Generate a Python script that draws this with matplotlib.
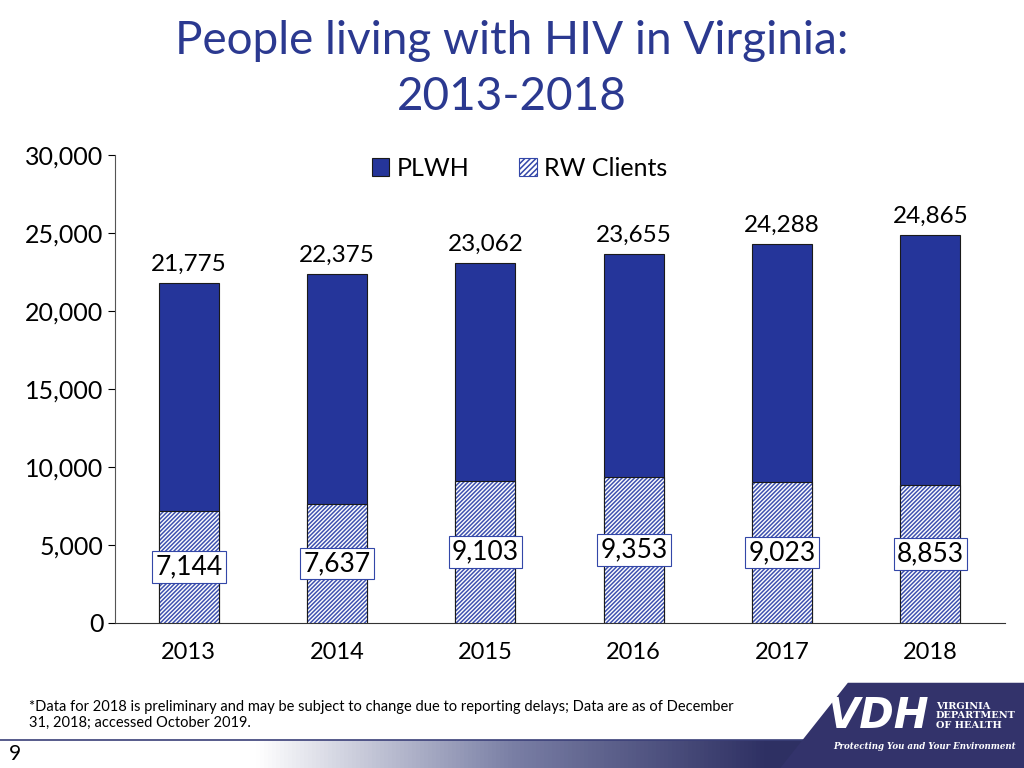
import matplotlib.pyplot as plt
import numpy as np
from matplotlib.patches import Polygon, Rectangle

years = ['2013', '2014', '2015', '2016', '2017', '2018']
plwh = [21775, 22375, 23062, 23655, 24288, 24865]
rw_clients = [7144, 7637, 9103, 9353, 9023, 8853]

navy = '#25359A'
title_blue = '#2B3990'

plt.rcParams['font.family'] = ['Lato', 'DejaVu Sans']
plt.rcParams['hatch.linewidth'] = 1.1

fig = plt.figure(figsize=(10.24, 7.68), dpi=100)
ax = fig.add_axes([0.112, 0.189, 0.869, 0.609])

x = np.arange(len(years))
w = 0.405
ax.bar(x, plwh, w, color=navy, edgecolor='#1a1a1a', linewidth=0.8, label='PLWH', zorder=2)
ax.bar(x, rw_clients, w, color='white', edgecolor='#3F52B0', hatch='////////', linewidth=0, zorder=3)
ax.bar(x, rw_clients, w, fill=False, edgecolor='#1a1a1a', linewidth=0.8, zorder=4)

for xi, v in zip(x, plwh):
    ax.annotate(f'{v:,}', (xi, v), xytext=(0, 6), textcoords='offset points',
                ha='center', va='bottom', fontsize=17.5)
for xi, v in zip(x, rw_clients):
    ax.text(xi, v / 2, f'{v:,}', ha='center', va='center', fontsize=19, zorder=5,
            bbox=dict(boxstyle='square,pad=0.12', fc='white', ec='#3347A8', lw=0.8))

ax.set_xlim(-0.5, 5.5)
ax.set_ylim(0, 30000)
ax.set_yticks(range(0, 30001, 5000))
ax.set_yticklabels([f'{t:,}' for t in range(0, 30001, 5000)], fontsize=18)
ax.set_xticks(x)
ax.set_xticklabels(years, fontsize=17)
ax.tick_params(axis='x', length=0, pad=14)
ax.tick_params(axis='y', length=5, direction='out', pad=3)
for s in ['top', 'right']:
    ax.spines[s].set_visible(False)
ax.spines['left'].set_color('#555555')
ax.spines['bottom'].set_color('#333333')

h1 = Rectangle((0, 0), 1, 1, fc=navy, ec='#1a1a1a', lw=0.8)
h2 = Rectangle((0, 0), 1, 1, fc='white', ec='#3347A8', hatch='//////', lw=0.8)
ax.legend([h1, h2], ['PLWH', 'RW Clients'], loc='upper center', bbox_to_anchor=(0.455, 1.045),
          ncol=2, frameon=False, fontsize=18, handlelength=0.7, handleheight=0.7,
          handletextpad=0.3, columnspacing=2.0)

fig.text(0.5, 0.946, 'People living with HIV in Virginia:', ha='center', va='center',
         fontsize=33, color=title_blue)
fig.text(0.5, 0.874, '2013-2018', ha='center', va='center', fontsize=33, color=title_blue)

# footer
fig.text(0.028, 0.069, '*Data for 2018 is preliminary and may be subject to change due to reporting delays; Data are as of December\n31, 2018; accessed October 2019.',
         ha='left', va='center', fontsize=10.5, linespacing=1.2)
grad = np.linspace(0, 1, 256).reshape(1, -1)
gax = fig.add_axes([0, 0, 1, 0.036])
cmap = plt.matplotlib.colors.LinearSegmentedColormap.from_list('g', ['white', 'white', '#7a7fa5', '#2E3063', '#2E3063'])
gax.imshow(grad, aspect='auto', cmap=cmap, extent=[0, 1, 0, 1])
gax.axis('off')
fig.add_artist(plt.Line2D([0, 1], [0.036, 0.036], color='#3a3f78', lw=1.2, transform=fig.transFigure))
fig.text(0.009, 0.018, '9', ha='left', va='center', fontsize=15)

logo = Polygon([[0.762, 0.0], [0.828, 0.111], [1.0, 0.111], [1.0, 0.0]], closed=True,
               transform=fig.transFigure, fc='#33336B', ec='none', zorder=5)
fig.add_artist(logo)
fig.text(0.808, 0.068, 'VDH', fontsize=30, fontweight='bold', style='italic', color='white',
         ha='left', va='center', zorder=6, family='DejaVu Sans')
fig.text(0.914, 0.068, 'VIRGINIA\nDEPARTMENT\nOF HEALTH', fontsize=7, color='white',
         ha='left', va='center', zorder=6, family='DejaVu Serif', fontweight='bold', linespacing=1.05)
fig.text(0.814, 0.028, 'Protecting You and Your Environment', fontsize=6.2, color='white',
         ha='left', va='center', zorder=6, family='DejaVu Serif', style='italic', fontweight='bold')

fig.savefig('out.png', dpi=100)
